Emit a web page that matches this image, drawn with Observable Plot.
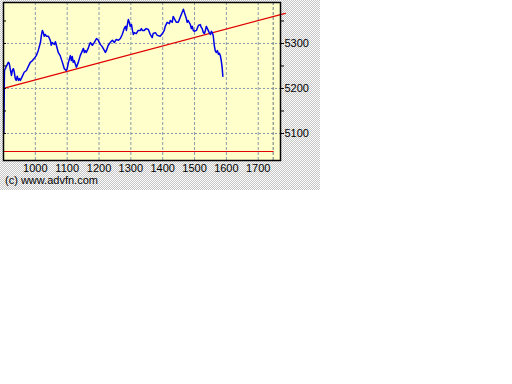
<!DOCTYPE html>
<html>
<head>
<meta charset="utf-8">
<script src="https://cdn.jsdelivr.net/npm/d3@7"></script>
<script src="https://cdn.jsdelivr.net/npm/@observablehq/plot@0.6"></script>
<style>
  html, body { margin: 0; padding: 0; background: #fff; }
  #wrap { position: relative; width: 512px; height: 384px; background: #fff; overflow: hidden; }
  #pat { position: absolute; left: 0; top: 0; width: 320px; height: 190px;
         background: repeating-conic-gradient(#c4c4c4 0 25%, #ffffff 0 50%) 0 0 / 2px 2px; }
  #chart { position: absolute; left: 0; top: 0; }
  #cap { position: absolute; left: 5px; top: 174px; font: 11px "Liberation Sans", Arial, sans-serif; color: #000; white-space: nowrap; }
</style>
</head>
<body>
<div id="wrap">
  <div id="pat"></div>
  <div id="chart"></div>
  <div id="cap">(c) www.advfn.com</div>
</div>
<script>
// Price series (x index, value)
const priceX = [901,903,915,918,922,925,928,931,934,937,940,943,947,950,953,959,965,972,978,984,991,997,1003,1009,1016,1019,1022,1025,1028,1031,1035,1041,1047,1050,1053,1060,1063,1066,1072,1078,1085,1091,1097,1100,1104,1110,1113,1116,1119,1122,1129,1135,1141,1148,1151,1154,1157,1160,1166,1170,1173,1179,1185,1192,1198,1204,1210,1217,1220,1223,1229,1235,1242,1248,1254,1261,1267,1273,1279,1283,1286,1289,1292,1295,1298,1302,1305,1308,1311,1317,1323,1330,1333,1336,1342,1348,1355,1361,1367,1370,1377,1383,1392,1399,1405,1408,1414,1421,1424,1430,1433,1436,1443,1449,1455,1461,1465,1468,1474,1477,1480,1487,1490,1493,1496,1499,1506,1512,1518,1521,1524,1528,1531,1534,1537,1543,1546,1550,1553,1556,1559,1562,1565,1568,1572,1575,1578,1581,1584,1587,1589];
const priceY = [5100,5240,5258,5256,5240,5229,5240,5244,5236,5222,5218,5227,5218,5222,5218,5227,5236,5240,5249,5258,5262,5267,5273,5284,5302,5318,5329,5324,5316,5320,5316,5316,5307,5296,5302,5298,5304,5296,5280,5273,5258,5244,5240,5244,5258,5273,5262,5271,5258,5262,5247,5258,5273,5284,5289,5280,5284,5280,5289,5298,5302,5296,5302,5311,5307,5298,5293,5284,5280,5284,5296,5302,5307,5302,5309,5307,5311,5320,5333,5338,5329,5342,5353,5347,5338,5342,5329,5320,5324,5322,5329,5329,5333,5329,5329,5333,5331,5320,5313,5322,5324,5318,5316,5322,5329,5338,5347,5344,5351,5347,5360,5356,5347,5347,5358,5369,5376,5369,5356,5347,5351,5342,5333,5338,5329,5327,5329,5340,5342,5336,5333,5324,5322,5329,5338,5329,5324,5320,5327,5324,5316,5296,5284,5280,5284,5276,5278,5273,5262,5244,5227];

// Trend line (red, rising)
const trendX = [900, 1785];
const trendY = [5200, 5367];

// Horizontal support line (red)
const baseX = [900, 1747];
const baseY = [5060, 5060];

// Vertical marker line
const markerX = [1747];

// Axis ticks
const xTicks = [1000, 1100, 1200, 1300, 1400, 1500, 1600, 1700];
const yTicks = [5100, 5200, 5300];
const yMinor = [5150, 5250, 5350];

const price = priceX.map((x, i) => ({x, y: priceY[i]}));
const trend = trendX.map((x, i) => ({x, y: trendY[i]}));
const base = baseX.map((x, i) => ({x, y: baseY[i]}));

const chart = Plot.plot({
  width: 512,
  height: 384,
  marginLeft: 3,
  marginRight: 232,
  marginTop: 2,
  marginBottom: 224,
  x: {domain: [900, 1770]},
  y: {domain: [5040, 5391]},
  style: {background: "transparent", fontFamily: "'Liberation Sans', Arial, sans-serif", fontSize: "11px", color: "#000"},
  marks: [
    Plot.frame({fill: "#ffffcc", stroke: null}),
    Plot.gridX(xTicks, {stroke: "#8a9aaa", strokeOpacity: 1, strokeDasharray: "3,2"}),
    Plot.gridY(yTicks, {stroke: "#8a9aaa", strokeOpacity: 1, strokeDasharray: "2,2"}),
    Plot.ruleX(markerX, {stroke: "#5f7585", strokeDasharray: "3,2"}),
    Plot.line(base, {x: "x", y: "y", stroke: "#e00000", strokeWidth: 1.2}),
    Plot.line(trend, {x: "x", y: "y", stroke: "#e00000", strokeWidth: 1.3}),
    Plot.line(price, {x: "x", y: "y", stroke: "#0000e8", strokeWidth: 1.5}),
    Plot.frame({stroke: "#000", strokeWidth: 1.5}),
    Plot.axisX(xTicks, {tickSize: 0, tickPadding: 4, label: null, tickFormat: d => String(d)}),
    Plot.axisY(yTicks, {anchor: "right", tickSize: 3, tickPadding: 1, label: null, tickFormat: d => String(d)}),
    Plot.axisY(yMinor, {anchor: "right", tickSize: 3, label: null, tickFormat: () => ""}),
    Plot.axisY(yTicks.concat(yMinor), {anchor: "left", tickSize: -3, label: null, tickFormat: () => ""})
  ]
});
document.getElementById("chart").appendChild(chart);
</script>
</body>
</html>
